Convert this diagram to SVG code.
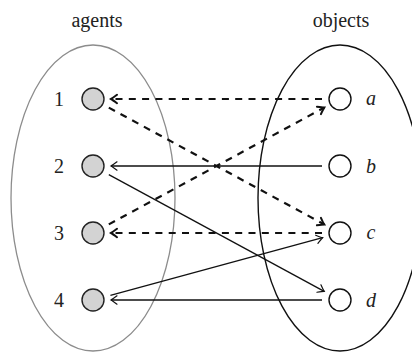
<svg xmlns="http://www.w3.org/2000/svg" width="412" height="352" viewBox="0 0 412 352">
<style>
text{font-family:'Liberation Serif','DejaVu Serif',serif;font-size:20px;fill:#222;text-anchor:middle}
.obj{font-style:italic}
.agent{fill:#d3d3d3;stroke:#222;stroke-width:1.4}
.object{fill:#fff;stroke:#111;stroke-width:1.4}
.solid{stroke:#111;stroke-width:1.3;fill:none;marker-end:url(#ah)}
.dash{stroke:#111;stroke-width:2.2;stroke-dasharray:7 6.3;fill:none;marker-end:url(#ahd)}
</style>
<defs>
<marker id="ah" viewBox="-8 -6 10 12" markerWidth="10" markerHeight="12" refX="0" refY="0" orient="auto" markerUnits="userSpaceOnUse">
<path d="M-6,-4.2 Q-1.5,-0.8 0,0 Q-1.5,0.8 -6,4.2" fill="none" stroke="#111" stroke-width="1.2" stroke-dasharray="none" stroke-linecap="round"/>
</marker>
<marker id="ahd" viewBox="-8 -6 10 12" markerWidth="10" markerHeight="12" refX="0" refY="0" orient="auto" markerUnits="userSpaceOnUse">
<path d="M-6,-4.2 Q-1.5,-0.8 0,0 Q-1.5,0.8 -6,4.2" fill="none" stroke="#111" stroke-width="2" stroke-dasharray="none" stroke-linecap="round"/>
</marker>
</defs>
<rect width="412" height="352" fill="#fff"/>
<g id="sets">
<ellipse cx="93" cy="198" rx="82" ry="153" fill="none" stroke="#8c8c8c" stroke-width="1.3"/>
<ellipse cx="340" cy="198" rx="82" ry="153" fill="none" stroke="#111" stroke-width="1.4"/>
<text x="97" y="27" font-family="Liberation Serif, serif" font-size="22">agents</text>
<text x="341" y="27" font-family="Liberation Serif, serif" font-size="22">objects</text>
</g>
<g id="connectors">
<line class="dash" x1="322" y1="99" x2="111" y2="99"/>
<line class="dash" x1="108.8" y1="107.6" x2="324.2" y2="224.4"/>
<line class="solid" x1="322" y1="166" x2="111" y2="166"/>
<line class="solid" x1="108.8" y1="174.6" x2="324.2" y2="291.4"/>
<line class="dash" x1="108.8" y1="224.4" x2="324.2" y2="107.6"/>
<line class="dash" x1="322" y1="233" x2="111" y2="233"/>
<line class="solid" x1="110.4" y1="295.3" x2="322.6" y2="237.7"/>
<line class="solid" x1="322" y1="300" x2="111" y2="300"/>
</g>
<g id="agent1"><circle class="agent" cx="93" cy="99" r="11"/><text x="59" y="106" font-family="Liberation Serif, serif">1</text></g>
<g id="agent2"><circle class="agent" cx="93" cy="166" r="11"/><text x="59" y="173" font-family="Liberation Serif, serif">2</text></g>
<g id="agent3"><circle class="agent" cx="93" cy="233" r="11"/><text x="59" y="240" font-family="Liberation Serif, serif">3</text></g>
<g id="agent4"><circle class="agent" cx="93" cy="300" r="11"/><text x="59" y="307" font-family="Liberation Serif, serif">4</text></g>
<g id="objectA"><circle class="object" cx="340" cy="99" r="11"/><text class="obj" x="371" y="105" font-family="Liberation Serif, serif">a</text></g>
<g id="objectB"><circle class="object" cx="340" cy="166" r="11"/><text class="obj" x="371" y="173" font-family="Liberation Serif, serif">b</text></g>
<g id="objectC"><circle class="object" cx="340" cy="233" r="11"/><text class="obj" x="371" y="239" font-family="Liberation Serif, serif">c</text></g>
<g id="objectD"><circle class="object" cx="340" cy="300" r="11"/><text class="obj" x="371" y="307" font-family="Liberation Serif, serif">d</text></g>
</svg>
